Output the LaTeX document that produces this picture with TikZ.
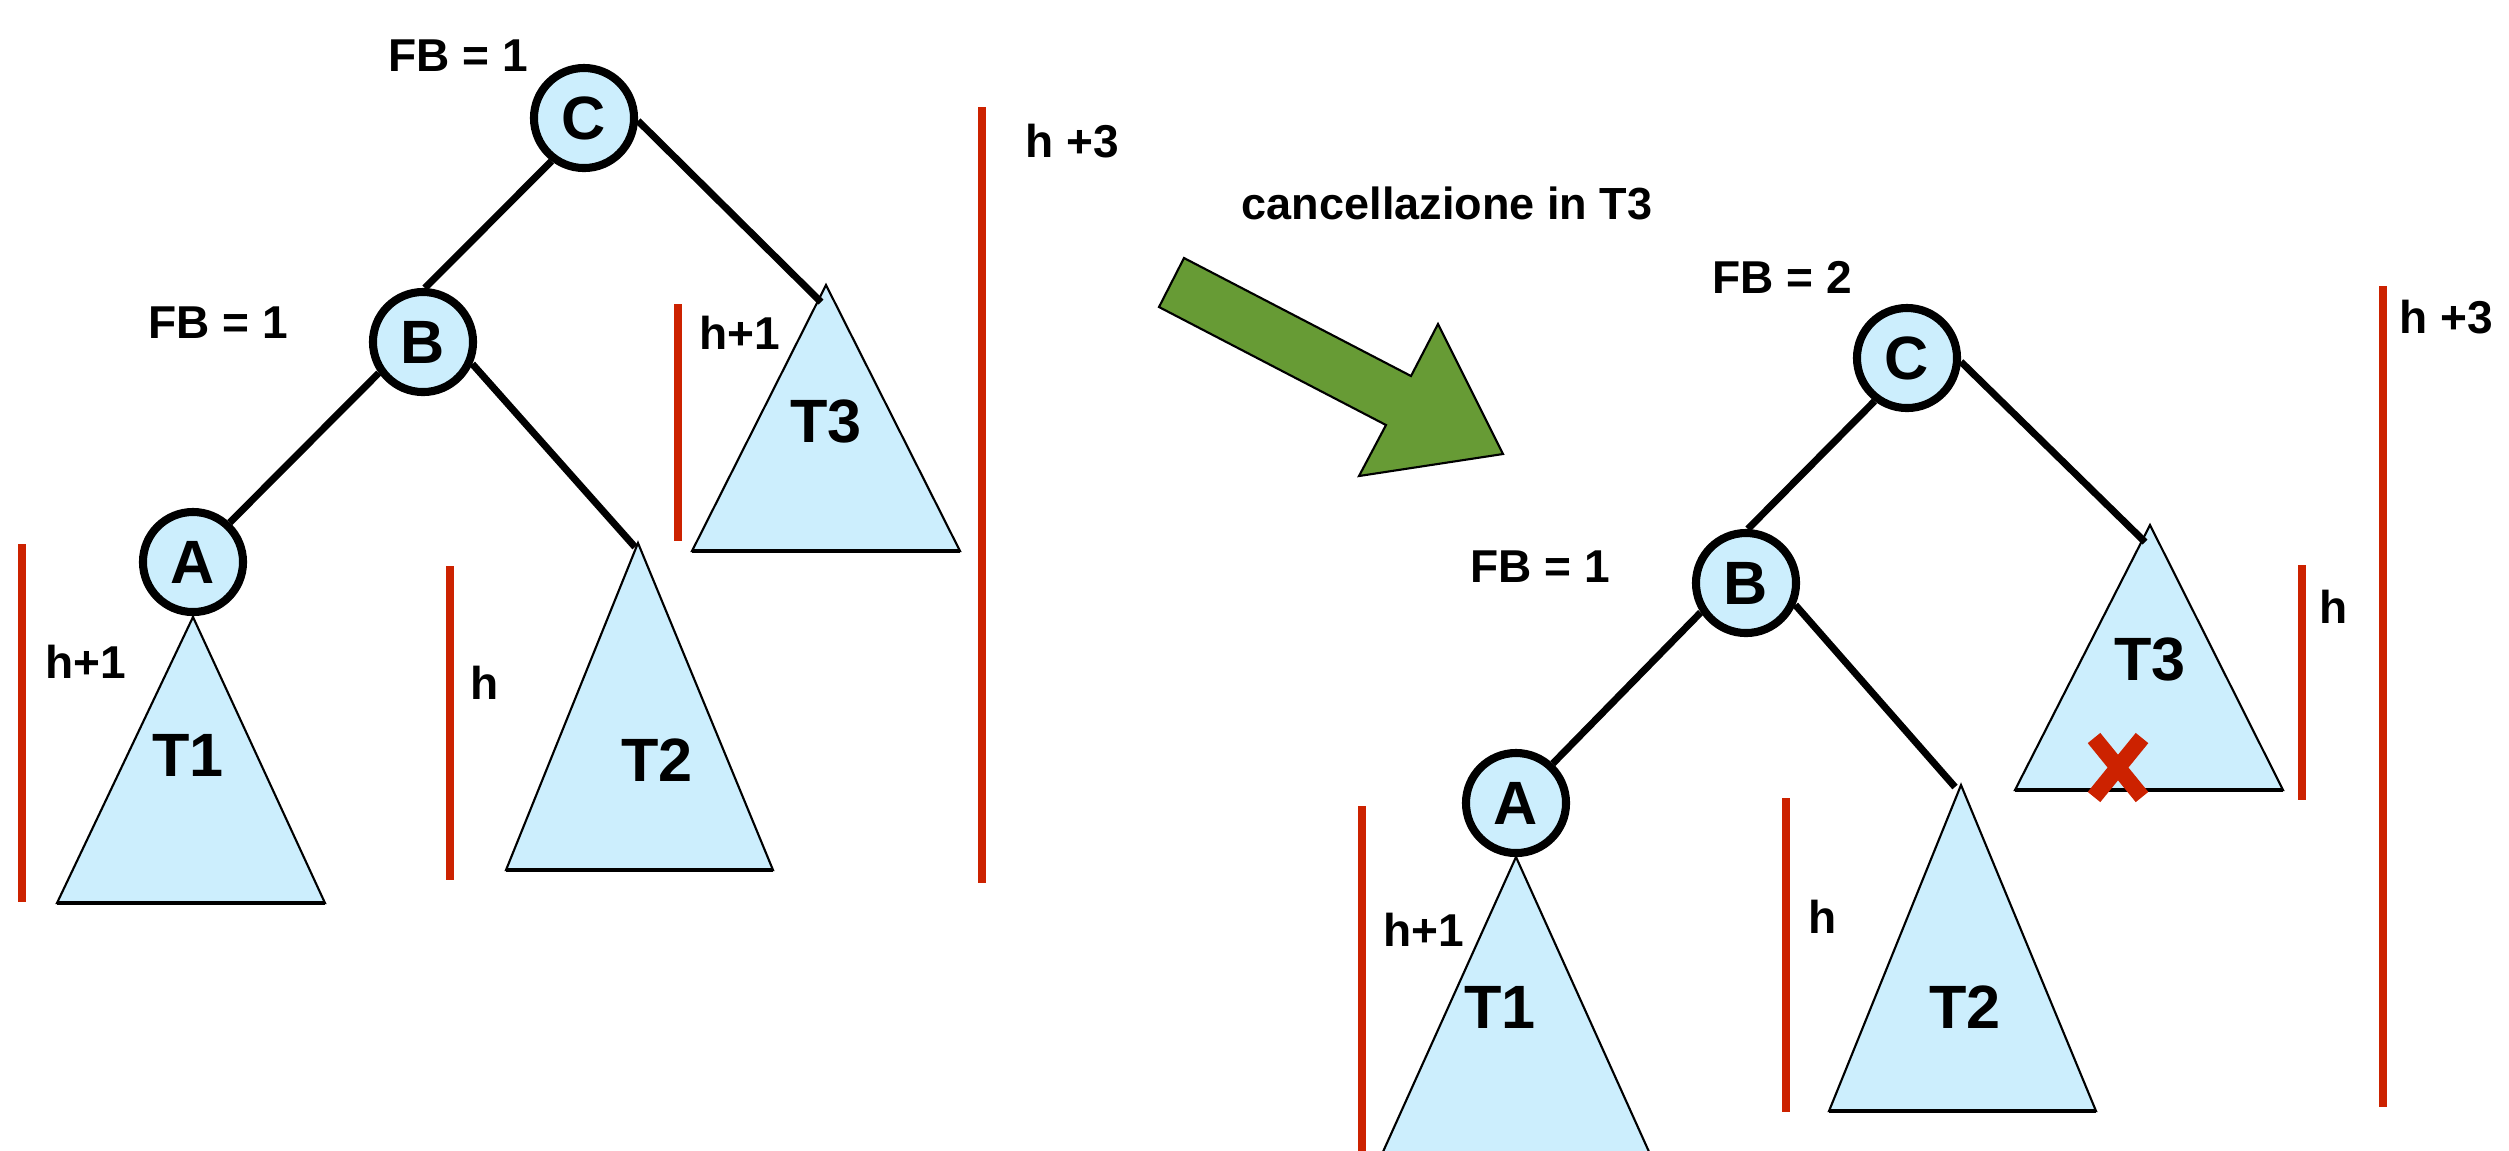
\documentclass[tikz,border=0pt]{standalone}
\usepackage{fontspec}
\setmainfont{Liberation Sans}
\definecolor{nodeblue}{RGB}{204,238,253}
\definecolor{barred}{RGB}{204,34,0}
\definecolor{arrowgreen}{RGB}{103,155,53}
\begin{document}
\begin{tikzpicture}[x=0.01cm,y=-0.01cm,
  tn/.style={circle, draw, line width=2.3pt, fill=nodeblue, minimum size=1cm, inner sep=0pt, font=\bfseries\fontsize{17.4}{20}\selectfont},
  edge/.style={line width=2pt},
  bar/.style={draw=barred, line width=2.5pt},
  tri/.style={fill=nodeblue, draw, line width=0.6pt},
  tribase/.style={line width=1.1pt},
  lbl/.style={font=\bfseries\fontsize{13.1}{15}\selectfont, inner sep=0pt},
  big/.style={font=\bfseries\fontsize{17.4}{20}\selectfont, inner sep=0pt}]
\useasboundingbox (0,0) rectangle (2509,1150);
\clip (0,0) rectangle (2509,1150);

% ---------- left tree ----------
\coordinate (lt1a) at (193,617);
\coordinate (lt2a) at (638,543);
\coordinate (lt3a) at (826,285);
\filldraw[tri] (lt1a) -- (325,903) -- (57,903) -- cycle;
\draw[tribase] (57,903) -- (325,903);
\filldraw[tri] (lt2a) -- (773,870) -- (506,870) -- cycle;
\draw[tribase] (506,870) -- (773,870);
\filldraw[tri] (lt3a) -- (960,551) -- (692,551) -- cycle;
\draw[tribase] (692,551) -- (960,551);
\coordinate (lt2e) at (635,547);
\coordinate (lt3e) at (821,302);

\node[tn] (C1) at (584,118) {C};
\node[tn] (B1) at (423,342) {B};
\node[tn] (A1) at (193,562) {A};
\draw[edge] (C1.233) -- (B1.88);
\draw[edge] (C1.-3) -- (lt3e);
\draw[edge] (B1.215) -- (A1.47);
\draw[edge] (B1.-24) -- (lt2e);

\node[big] (lT1) at (188,755) {T1};
\node[big] (lT2) at (657,760) {T2};
\node[big] (lT3) at (826,421) {T3};

\node[lbl] (lfbc) at (458,56) {FB = 1};
\node[lbl] (lfbb) at (218,323) {FB = 1};

\draw[bar] (22,544) -- (22,902);
\draw[bar] (450,566) -- (450,880);
\draw[bar] (678,304) -- (678,541);
\draw[bar] (982,107) -- (982,883);
\node[lbl] (lh1) at (86,662) {h+1};
\node[lbl] (lh2) at (485,683) {h};
\node[lbl] (lh3) at (740,333) {h+1};
\node[lbl] (lh4) at (1072,141) {h +3};

% ---------- arrow ----------
\node[lbl, font=\bfseries\fontsize{12.8}{15}\selectfont] (cap) at (1447,203) {cancellazione in T3};
\filldraw[fill=arrowgreen, draw=black, line width=0.6pt]
  (1184,258) -- (1411,376) -- (1438,324) -- (1503,454) -- (1359,476) -- (1386,425) -- (1159,307) -- cycle;

% ---------- right tree ----------
\coordinate (rt1a) at (1516,857);
\coordinate (rt2a) at (1961,785);
\coordinate (rt3a) at (2150,525);
\filldraw[tri] (rt1a) -- (1664,1185) -- (1368,1185) -- cycle;
\filldraw[tri] (rt2a) -- (2096,1111) -- (1829,1111) -- cycle;
\draw[tribase] (1829,1111) -- (2096,1111);
\filldraw[tri] (rt3a) -- (2283,790) -- (2015,790) -- cycle;
\draw[tribase] (2015,790) -- (2283,790);
\coordinate (rt2e) at (1955,787);
\coordinate (rt3e) at (2145,542);

\node[tn] (C2) at (1907,358) {C};
\node[tn] (B2) at (1746,583) {B};
\node[tn] (A2) at (1516,803) {A};
\draw[edge] (C2.233) -- (B2.88);
\draw[edge] (C2.-4) -- (rt3e);
\draw[edge] (B2.213) -- (A2.47);
\draw[edge] (B2.-24) -- (rt2e);

\node[big] (rT1) at (1500,1007) {T1};
\node[big] (rT2) at (1965,1007) {T2};
\node[big] (rT3) at (2150,659) {T3};

\draw[barred, line width=4.6pt] (2094,738) -- (2142,797);
\draw[barred, line width=4.6pt] (2142,738) -- (2094,797);

\node[lbl] (rfbc) at (1782,277) {FB = 2};
\node[lbl] (rfbb) at (1540,567) {FB = 1};

\draw[bar] (1362,806) -- (1362,1160);
\draw[bar] (1786,798) -- (1786,1112);
\draw[bar] (2302,565) -- (2302,800);
\draw[bar] (2383,286) -- (2383,1107);
\node[lbl] (rh1) at (1424,930) {h+1};
\node[lbl] (rh2) at (1823,917) {h};
\node[lbl] (rh3) at (2334,607) {h};
\node[lbl] (rh4) at (2446,317) {h +3};
\end{tikzpicture}
\end{document}
